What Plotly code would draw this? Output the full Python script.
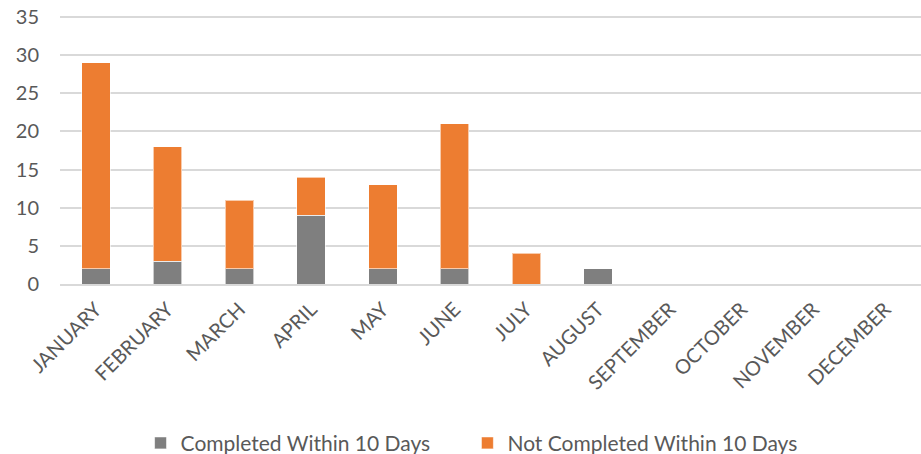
import plotly.graph_objects as go

months = ["JANUARY", "FEBRUARY", "MARCH", "APRIL", "MAY", "JUNE", "JULY",
          "AUGUST", "SEPTEMBER", "OCTOBER", "NOVEMBER", "DECEMBER"]
completed = [2, 3, 2, 9, 2, 2, 0, 2, 0, 0, 0, 0]
not_completed = [27, 15, 9, 5, 11, 19, 4, 0, 0, 0, 0, 0]
y_ticks = [0, 5, 10, 15, 20, 25, 30, 35]

fig = go.Figure()
fig.add_trace(go.Bar(x=months, y=completed, name="Completed Within 10 Days" + "\u00a0" * 6,
                     marker=dict(color="#7f7f7f", line=dict(color="rgba(255,255,255,0.6)", width=1))))
fig.add_trace(go.Bar(x=months, y=not_completed, name="Not Completed Within 10 Days",
                     marker=dict(color="#ed7d31", line=dict(color="rgba(255,255,255,0.6)", width=1))))

fig.update_layout(
    barmode="stack",
    bargap=0.6,
    width=921, height=454,
    margin=dict(l=60, r=0, t=15, b=170, autoexpand=False),
    plot_bgcolor="white", paper_bgcolor="white",
    font=dict(family="Lato, Open Sans, sans-serif", color="#595959"),
    showlegend=True,
    legend=dict(orientation="h", x=0.478, xanchor="center", y=-0.592, yanchor="middle",
                font=dict(size=21, color="#595959"), traceorder="normal",
                itemwidth=30, tracegroupgap=0),
    xaxis=dict(tickangle=-45, tickfont=dict(size=20), showgrid=False,
               ticks="outside", ticklen=4, tickcolor="rgba(0,0,0,0)",
               showline=True, linecolor="#d9d9d9", linewidth=1.5, automargin=False),
    yaxis=dict(range=[0, 35.262], tickvals=y_ticks, tickfont=dict(size=20),
               showgrid=True, gridcolor="#d9d9d9", gridwidth=1.5, zeroline=False,
               ticks="outside", ticklen=16, tickcolor="rgba(0,0,0,0)", automargin=False),
)
fig.write_html("out.html", config={"displayModeBar": False},
               post_script="document.body.style.margin='0';document.body.style.overflow='hidden';")
